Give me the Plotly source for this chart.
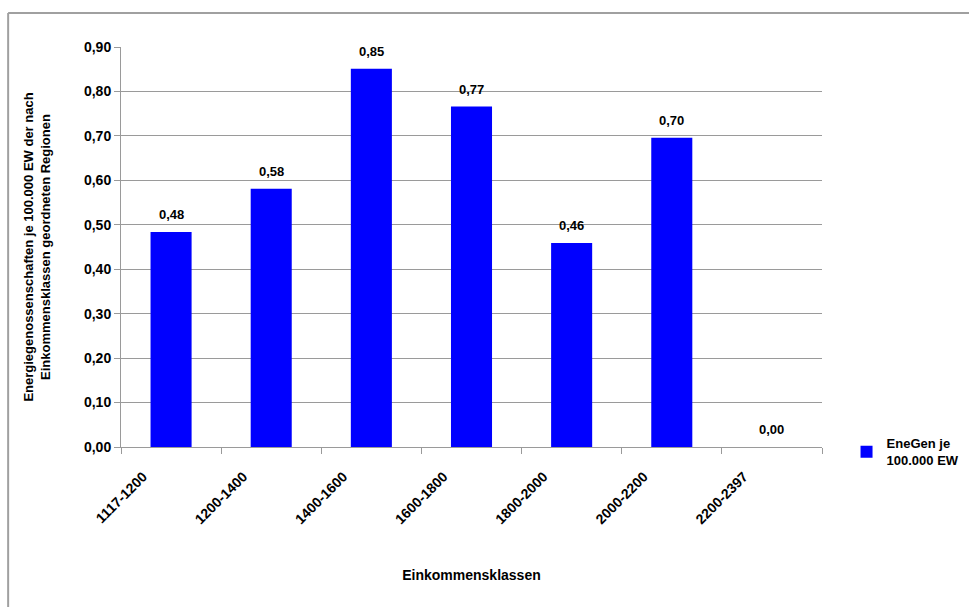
import plotly.graph_objects as go

# Einkommensklassen and Energiegenossenschaften je 100.000 EW
klassen = ["1117-1200", "1200-1400", "1400-1600", "1600-1800",
           "1800-2000", "2000-2200", "2200-2397"]
enegen = [0.484, 0.581, 0.851, 0.766, 0.459, 0.696, 0.0]
y_ticks = [0.0, 0.1, 0.2, 0.3, 0.4, 0.5, 0.6, 0.7, 0.8, 0.9]

FONT = "Liberation Sans, Arial, sans-serif"
GRID = "#9a9a9a"

fig = go.Figure()
fig.add_trace(go.Bar(
    x=klassen,
    y=enegen,
    name="EneGen je<br>100.000 EW",
    marker=dict(color="#0000ff", line=dict(width=0)),
    showlegend=True,
))

# value labels above each bar
for k, v in zip(klassen, enegen):
    fig.add_annotation(
        x=k, y=v, text=f"{v:.2f}".replace(".", ","),
        showarrow=False, yanchor="bottom", yshift=8,
        font=dict(family=FONT, size=13, color="black", weight="bold"),
    )

fig.update_layout(
    width=969,
    height=607,
    margin=dict(l=121, r=147, t=47, b=160, autoexpand=False),
    paper_bgcolor="white",
    plot_bgcolor="white",
    separators=",.",
    bargap=0.59,
    font=dict(family=FONT, color="black"),
    legend=dict(
        x=1.035, y=-0.012, xanchor="left", yanchor="middle",
        font=dict(family=FONT, size=13, color="black", weight="bold"),
        itemwidth=30,
    ),
    xaxis=dict(
        tickangle=-45,
        tickfont=dict(family=FONT, size=14, color="black", weight="bold"),
        ticklabelshift=-28,
        ticklabelstandoff=15,
        showline=True, linecolor=GRID, linewidth=1,
        ticks="outside", ticklen=6, tickcolor=GRID,
        tickson="boundaries",
        title=dict(text="Einkommensklassen",
                   font=dict(family=FONT, size=14, color="black", weight="bold"),
                   standoff=43),
    ),
    yaxis=dict(
        range=[0, 0.9],
        tickvals=y_ticks,
        tickformat=".2f",
        tickfont=dict(family=FONT, size=14, color="black", weight="bold"),
        showgrid=True, gridcolor=GRID, gridwidth=1,
        showline=True, linecolor=GRID, linewidth=1,
        ticks="outside", ticklen=6, tickcolor=GRID,
        zeroline=False,
        title=dict(text="Energiegenossenschaften je 100.000 EW der nach<br>"
                        "Einkommensklassen geordneten Regionen",
                   font=dict(family=FONT, size=13, color="black", weight="bold"),
                   standoff=30),
    ),
    shapes=[
        # chart frame (top and left edges)
        dict(type="line", xref="paper", yref="paper",
             x0=-0.161, x1=1.3, y0=1.085, y1=1.085,
             line=dict(color="#a0a0a0", width=2)),
        dict(type="line", xref="paper", yref="paper",
             x0=-0.161, x1=-0.161, y0=1.085, y1=-0.45,
             line=dict(color="#a0a0a0", width=2)),
    ],
)

fig.write_html("out.html")
